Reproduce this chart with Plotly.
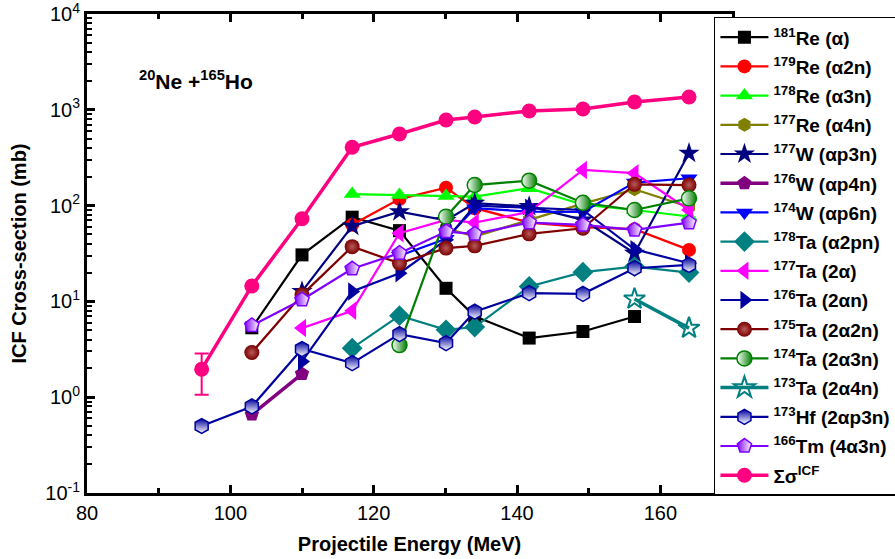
import plotly.graph_objects as go

# Projectile energies (MeV)
energy = [96.0, 103.0, 110.0, 117.0, 123.6, 130.1, 134.1, 141.7, 149.2, 156.4, 164.0]

# ICF cross-sections (mb) for each residue
re181 = [None, 5.3, 30.6, 75.7, 54.8, 13.7, 7.0, 4.14, 4.85, 6.95, None]
re179 = [None, None, None, 63, 117, 154, 94, 66.5, 59.5, 56.8, 34.5]
re178 = [None, None, None, 132, 129, 126, 124, 152, 102, 90, 77]
re177 = [None, None, None, None, None, 58, 47.5, 71, 105, 148, 97]
w177 = [None, None, 12.7, 61, 86.5, 70, 106, 98, 71, 31.8, 352]
w176 = [None, 0.66, 1.75, None, None, None, None, None, None, None, None]
w174 = [None, None, None, None, 30, 45, 94, 86.5, 86, 174, 193]
ta178 = [None, None, None, 3.25, 7.1, 5.05, 5.4, 14.3, 20.2, 23.1, 20]
ta177 = [None, None, 5.26, 7.98, 51.5, 71, 66.4, 86, 236, 218, 90]
ta176 = [None, None, 2.36, 12.7, 19.7, 43.9, 100, 95, 90, 35, 25]
ta175 = [None, 2.93, 11.7, 37.3, 25, 36, 38, 50.7, 58, 167, 164]
ta174 = [None, None, None, None, 3.5, 76.7, 164, 182, 107, 90, 119]
ta173 = [None, None, None, None, None, None, None, None, None, 10.6, 5.26]
hf173 = [0.5, 0.8, 3.18, 2.27, 4.55, 3.67, 7.8, 12.2, 12.0, 22.2, 24]
tm166 = [None, 5.6, 10.4, 21.9, 31.9, 53.6, 50.7, 66.5, 63, 55.7, 66.5]
icf_sum = [1.96, 14.5, 73, 407, 560, 783, 843, 972, 1021, 1208, 1360]
icf_err = [0.9, None, None, None, None, None, None, None, None, None, None]

FONT = "Arial, Liberation Sans, sans-serif"

series = [
    ("<sup>181</sup>Re (α)", re181, "black", dict(symbol="square", size=13, color="black")),
    ("<sup>179</sup>Re (α2n)", re179, "#FF0000", dict(symbol="circle", size=14, color="#FF0000")),
    ("<sup>178</sup>Re (α3n)", re178, "#00FF00", dict(symbol="triangle-up", size=15, color="#00FF00")),
    ("<sup>177</sup>Re (α4n)", re177, "#808000", dict(symbol="hexagon", size=14, color="#808000")),
    ("<sup>177</sup>W (αp3n)", w177, "#000080", dict(symbol="star", size=16, color="#000080")),
    ("<sup>176</sup>W (αp4n)", w176, "#800080", dict(symbol="pentagon", size=15, color="#800080")),
    ("<sup>174</sup>W (αp6n)", w174, "#0000FF", dict(symbol="triangle-down", size=15, color="#0000FF")),
    ("<sup>178</sup>Ta (α2pn)", ta178, "#008080", dict(symbol="diamond", size=16, color="#008080")),
    ("<sup>177</sup>Ta (2α)", ta177, "#FF00FF", dict(symbol="triangle-left", size=16, color="#FF00FF")),
    ("<sup>176</sup>Ta (2αn)", ta176, "#0000A0", dict(symbol="triangle-right", size=16, color="#0000A0")),
    ("<sup>175</sup>Ta (2α2n)", ta175, "#800000",
     dict(symbol="circle", size=15, color="#7A0000",
          gradient=dict(type="radial", color="#B85A5A"))),
    ("<sup>174</sup>Ta (2α3n)", ta174, "#008000",
     dict(symbol="circle", size=15, color="white",
          gradient=dict(type="horizontal", color="#008000"),
          line=dict(color="#008000", width=1.5))),
    ("<sup>173</sup>Ta (2α4n)", ta173, "#008080",
     dict(symbol="star-open", size=16, color="#008080", line=dict(width=2))),
    ("<sup>173</sup>Hf (2αp3n)", hf173, "#0000A0",
     dict(symbol="hexagon", size=15, color="#0000A0",
          gradient=dict(type="vertical", color="white"),
          line=dict(color="#0000A0", width=1.5))),
    ("<sup>166</sup>Tm (4α3n)", tm166, "#8000FF",
     dict(symbol="pentagon", size=15, color="#8000FF",
          gradient=dict(type="horizontal", color="white"),
          line=dict(color="#8000FF", width=1.5))),
]

line_widths = {"<sup>176</sup>W (αp4n)": 3.5, "<sup>173</sup>Ta (2α4n)": 3.5}

fig = go.Figure()
for name, vals, col, mk in series:
    fig.add_trace(go.Scatter(
        x=energy, y=vals, name=name, legendgroup=name,
        mode="lines+markers", connectgaps=True,
        line=dict(color=col, width=line_widths.get(name, 2.2)),
        marker=mk,
    ))

fig.add_trace(go.Scatter(
    x=energy, y=icf_sum, name="Σσ<sup>ICF</sup>", legendgroup="sum",
    mode="lines+markers",
    line=dict(color="#FF0080", width=3.5),
    marker=dict(symbol="circle", size=15, color="#FF0080"),
    error_y=dict(type="data", array=icf_err, visible=True, color="#FF0080",
                 thickness=2, width=7),
))

# minor ticks for the logarithmic axis
minor_y = [m * 10 ** e for e in range(-1, 4) for m in range(2, 10)]

axis_common = dict(
    showline=True, linecolor="black", linewidth=3, mirror="ticks",
    ticks="inside", tickcolor="black", tickwidth=2.5, ticklen=8,
    showgrid=False, zeroline=False, ticklabeloverflow="allow",
    tickfont=dict(family=FONT, size=20, color="black"),
)

fig.update_xaxes(
    range=[80, 170], tickmode="array", tickvals=[80, 100, 120, 140, 160],
    minor=dict(tickmode="array", tickvals=[90, 110, 130, 150, 170],
               ticks="inside", ticklen=5, tickwidth=2.5, tickcolor="black",
               showgrid=False),
    title=dict(text="<b>Projectile Energy (MeV)</b>", standoff=14,
               font=dict(family=FONT, size=20, color="black")),
    **axis_common,
)
fig.update_yaxes(
    type="log", range=[-1.0005, 4.0005], tickmode="array",
    tickvals=[0.1, 1, 10, 100, 1000, 10000],
    ticktext=["10<sup>-1</sup>", "10<sup>0</sup>", "10<sup>1</sup>",
              "10<sup>2</sup>", "10<sup>3</sup>", "10<sup>4</sup>"],
    minor=dict(tickmode="array", tickvals=minor_y, ticks="inside", ticklen=5,
               tickwidth=2, tickcolor="black", showgrid=False),
    title=dict(text="<b>ICF Cross-section (mb)</b>", standoff=14,
               font=dict(family=FONT, size=20, color="black")),
    **axis_common,
)

fig.add_annotation(
    xref="x", yref="paper", x=87, y=0.862, xanchor="left", yanchor="middle",
    text="<b><sup>20</sup>Ne +<sup>165</sup>Ho</b>", showarrow=False,
    font=dict(family=FONT, size=21, color="black"),
)

fig.update_layout(
    width=895, height=559,
    margin=dict(l=87, r=163, t=14, b=66, autoexpand=False),
    paper_bgcolor="white", plot_bgcolor="white",
    font=dict(family=FONT, color="black"),
    legend=dict(
        x=0.972, y=0.994, xanchor="left", yanchor="top",
        bgcolor="white", bordercolor="black", borderwidth=1.5,
        font=dict(family=FONT, size=19, color="black", weight="bold"),
        tracegroupgap=1.5, itemwidth=48, maxheight=540,
    ),
    showlegend=True,
)

fig.write_html("out.html")
